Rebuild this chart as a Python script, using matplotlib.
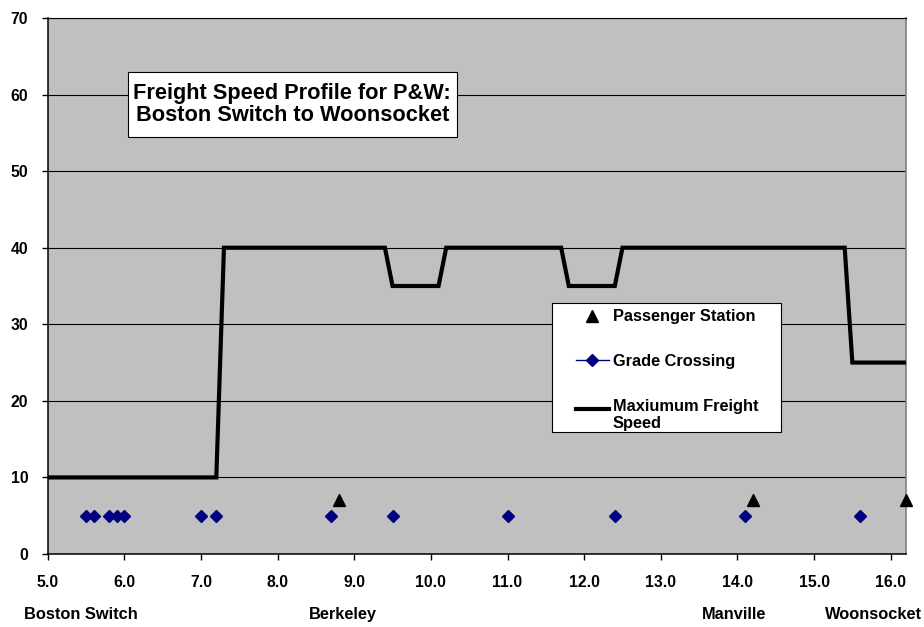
import matplotlib
matplotlib.use('Agg')
import matplotlib.pyplot as plt
import matplotlib.transforms as mtransforms
from matplotlib.legend_handler import HandlerLine2D
from matplotlib.lines import Line2D
from matplotlib.patches import Rectangle

# Профиль максимальной скорости (миля, миль/ч)
speed_miles = [5.0, 7.2, 7.3, 9.4, 9.5, 10.1, 10.2, 11.7, 11.8, 12.4, 12.5, 15.4, 15.5, 16.2]
speed_mph = [10, 10, 40, 40, 35, 35, 40, 40, 35, 35, 40, 40, 25, 25]

# Переезды
crossing_miles = [5.5, 5.6, 5.8, 5.9, 6.0, 7.0, 7.2, 8.7, 9.5, 11.0, 12.4, 14.1, 15.6]
crossing_y = [5] * len(crossing_miles)

# Пассажирские станции
station_miles = [8.8, 14.2, 16.2]
station_y = [7] * len(station_miles)

# Подписи под осью
place_names = ['Boston Switch', 'Berkeley', 'Manville', 'Woonsocket']
place_label_x = [4.69, 8.41, 13.54, 15.14]

x_ticks = [5.0, 6.0, 7.0, 8.0, 9.0, 10.0, 11.0, 12.0, 13.0, 14.0, 15.0, 16.0]
y_ticks = [0, 10, 20, 30, 40, 50, 60, 70]

TITLE = 'Freight Speed Profile for P&W:\nBoston Switch to Woonsocket'
W, H = 924, 627


def px(x, y):
    # пиксели картинки -> доли фигуры
    return x / W, 1 - y / H


class RaisedLineHandler(HandlerLine2D):
    # Линия в легенде ближе к первой строке подписи
    def __init__(self, raise_pt, **kw):
        super().__init__(**kw)
        self.raise_pt = raise_pt

    def create_artists(self, *args, **kw):
        artists = super().create_artists(*args, **kw)
        for a in artists:
            a.set_ydata([y + self.raise_pt for y in a.get_ydata()])
        return artists


def main():
    plt.rcParams['font.family'] = ['Liberation Sans', 'DejaVu Sans']
    plt.rcParams['font.weight'] = 'bold'

    fig = plt.figure(figsize=(W / 100, H / 100), dpi=100)
    x0, y1 = px(47.7, 18)
    x1, y0 = px(906, 554)
    ax = fig.add_axes([x0, y0, x1 - x0, y1 - y0])
    ax.set_facecolor('#c0c0c0')

    ax.plot(speed_miles, speed_mph, color='black', lw=3, zorder=3,
            solid_joinstyle='miter')
    ax.plot(crossing_miles, crossing_y, ls='none', marker='D', ms=6,
            color='#000080', zorder=3)
    ax.plot(station_miles, station_y, ls='none', marker='^', ms=8,
            color='black', zorder=3, clip_on=False)

    ax.set_xlim(5.0, 16.2)
    ax.set_ylim(0, 70)
    ax.set_xticks(x_ticks)
    ax.set_xticklabels(['{:.1f}'.format(v) for v in x_ticks])
    ax.set_yticks(y_ticks)
    ax.tick_params(axis='both', direction='out', length=4, width=1,
                   labelsize=11.3)
    ax.tick_params(axis='y', pad=10)
    ax.tick_params(axis='x', pad=11)
    ax.yaxis.grid(True, color='black', lw=0.8)
    ax.set_axisbelow(True)

    for side in ('left', 'bottom'):
        ax.spines[side].set_color('black')
        ax.spines[side].set_linewidth(1.1)
    ax.spines['right'].set_color('#808080')
    ax.spines['right'].set_linewidth(1.2)
    ax.spines['top'].set_color('black')
    ax.spines['top'].set_linewidth(0.8)

    # Заголовок в рамке
    tx0, ty0 = px(127.7, 136.7)
    tx1, ty1 = px(456.7, 71.7)
    ax.add_artist(Rectangle((tx0, ty0), tx1 - tx0, ty1 - ty0,
                            transform=fig.transFigure, fc='white',
                            ec='black', lw=0.8, zorder=4))
    ax.text(0.2849, 0.839, TITLE, transform=ax.transAxes, ha='center',
            va='center', multialignment='center', fontsize=15.7,
            linespacing=1.05, zorder=6)

    # Названия станций под осью
    trans = mtransforms.blended_transform_factory(ax.transData, fig.transFigure)
    for name, xpos in zip(place_names, place_label_x):
        ax.text(xpos, 1 - 614.7 / H, name, transform=trans, ha='left',
                va='center', fontsize=11.8, clip_on=False)

    # Легенда
    lx0, ly0 = px(551.7, 432.3)
    lx1, ly1 = px(780.7, 302.7)
    ax.add_artist(Rectangle((lx0, ly0), lx1 - lx0, ly1 - ly0,
                            transform=fig.transFigure, fc='white',
                            ec='black', lw=0.8, zorder=4))
    speed_handle = Line2D([], [], color='black', lw=3)
    handles = [
        Line2D([], [], ls='none', marker='^', ms=8, color='black'),
        Line2D([], [], color='#000080', lw=1, marker='D', ms=6),
        speed_handle,
    ]
    labels = ['Passenger Station', 'Grade Crossing', 'Maxiumum Freight\nSpeed']
    leg = ax.legend(handles, labels, loc='upper left',
                    bbox_to_anchor=px(576, 309.5), bbox_transform=fig.transFigure,
                    frameon=False, borderpad=0, borderaxespad=0,
                    handlelength=2.0, handletextpad=0.25, labelspacing=1.8,
                    numpoints=1, fontsize=11.8,
                    handler_map={speed_handle: RaisedLineHandler(4.3)})
    leg.set_zorder(5)

    fig.savefig('out.png', dpi=100)


if __name__ == '__main__':
    main()
